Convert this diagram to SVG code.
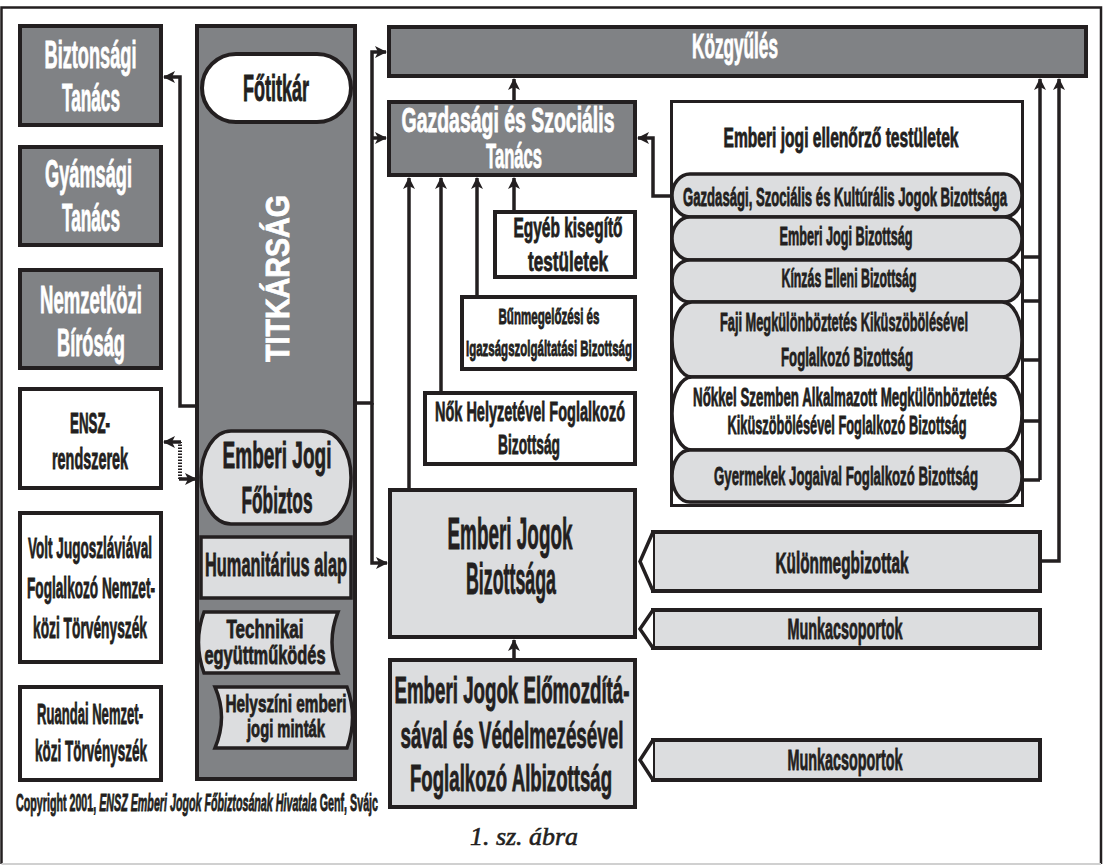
<svg xmlns="http://www.w3.org/2000/svg" width="1104" height="866" viewBox="0 0 1104 866">
<defs>
<style>
.dk{fill:#808285;stroke:#231f20;stroke-width:4}
.lt{fill:#dcdddf;stroke:#231f20;stroke-width:4}
.wh{fill:#ffffff;stroke:#231f20;stroke-width:4}
.pl{stroke-width:3.5}
.t{font-family:"Liberation Sans Narrow","Liberation Sans",Arial,sans-serif;font-weight:bold;text-anchor:middle;fill:#231f20;stroke:#231f20;stroke-width:0.85}
.w{fill:#ffffff;stroke:#ffffff}
.cn{fill:none;stroke:#231f20;stroke-width:3.5}
.ds{fill:none;stroke:#231f20;stroke-width:4;stroke-dasharray:1.5 1.5}
</style>
<marker id="ah" viewBox="0 0 12 12" refX="11" refY="6" markerWidth="12" markerHeight="12" markerUnits="userSpaceOnUse" orient="auto">
<path d="M0,0 L12,6 L0,12 L3,6 Z" fill="#231f20"/>
</marker>
</defs>
<rect x="0" y="0" width="1104" height="866" fill="#ffffff"/>
<path d="M1.5,864 V7.5 H1101 V864" fill="none" stroke="#231f20" stroke-width="2.5"/>
<path d="M1.5,864 H1101" fill="none" stroke="#d0d0d0" stroke-width="2"/>

<g id="connectors">
<path class="cn" d="M195,406 H180 V77 H164" marker-end="url(#ah)"/>
<path class="cn" d="M357,403 H372 V52 H386" marker-end="url(#ah)"/>
<path class="cn" d="M372,138 H386" marker-end="url(#ah)"/>
<path class="cn" d="M372,403 V563 H387" marker-end="url(#ah)"/>
<path class="ds" d="M180,479 V442"/>
<path class="cn" d="M181,442 H164" marker-end="url(#ah)"/>
<path class="cn" d="M179,479 H196" marker-end="url(#ah)"/>
<path class="cn" d="M514,100 V79" marker-end="url(#ah)"/>
<path class="cn" d="M409,488 V178" marker-end="url(#ah)"/>
<path class="cn" d="M441,391 V178" marker-end="url(#ah)"/>
<path class="cn" d="M477,295 V178" marker-end="url(#ah)"/>
<path class="cn" d="M514,210 V178" marker-end="url(#ah)"/>
<path class="cn" d="M672,196 H653 V138 H638" marker-end="url(#ah)"/>
<path class="cn" d="M1040,480 V79" marker-end="url(#ah)"/>
<path class="cn" d="M1022,257 H1040 M1022,301 H1040 M1022,360 H1040 M1022,421 H1040 M1022,480 H1040"/>
<path class="cn" d="M1042,561 H1059 V79" marker-end="url(#ah)"/>
<path class="cn" d="M514,658 V640" marker-end="url(#ah)"/>
</g>

<g id="biztonsagi">
<rect class="dk" x="20" y="26" width="141" height="99"/>
<text class="t w" x="90.5" y="68" font-size="38" textLength="92" lengthAdjust="spacingAndGlyphs">Biztonsági</text>
<text class="t w" x="91" y="111" font-size="38" textLength="58" lengthAdjust="spacingAndGlyphs">Tanács</text>
</g>
<g id="gyamsagi">
<rect class="dk" x="20" y="147" width="141" height="98"/>
<text class="t w" x="88.5" y="187" font-size="38" textLength="87" lengthAdjust="spacingAndGlyphs">Gyámsági</text>
<text class="t w" x="91" y="231" font-size="38" textLength="58" lengthAdjust="spacingAndGlyphs">Tanács</text>
</g>
<g id="nemzetkozi">
<rect class="dk" x="20" y="270" width="141" height="98"/>
<text class="t w" x="91" y="313" font-size="38" textLength="102" lengthAdjust="spacingAndGlyphs">Nemzetközi</text>
<text class="t w" x="91" y="356" font-size="38" textLength="68" lengthAdjust="spacingAndGlyphs">Bíróság</text>
</g>
<g id="ensz">
<rect class="wh" x="20" y="389" width="141" height="99"/>
<text class="t" x="90" y="433" font-size="29" textLength="40" lengthAdjust="spacingAndGlyphs">ENSZ-</text>
<text class="t" x="90" y="469" font-size="29" textLength="76" lengthAdjust="spacingAndGlyphs">rendszerek</text>
</g>
<g id="jugoszlavia">
<rect class="wh" x="20" y="513" width="141" height="149"/>
<text class="t" x="90" y="558" font-size="29" textLength="124" lengthAdjust="spacingAndGlyphs">Volt Jugoszláviával</text>
<text class="t" x="91" y="598" font-size="29" textLength="128" lengthAdjust="spacingAndGlyphs">Foglalkozó Nemzet-</text>
<text class="t" x="90" y="638" font-size="29" textLength="114" lengthAdjust="spacingAndGlyphs">közi Törvényszék</text>
</g>
<g id="ruanda">
<rect class="wh" x="20" y="687" width="141" height="93"/>
<text class="t" x="90" y="724" font-size="29" textLength="106" lengthAdjust="spacingAndGlyphs">Ruandai Nemzet-</text>
<text class="t" x="91" y="761" font-size="29" textLength="112" lengthAdjust="spacingAndGlyphs">közi Törvényszék</text>
</g>
<g id="copyright">
<text class="t" x="197" y="811" font-size="24" stroke-width="0.5" textLength="362" lengthAdjust="spacingAndGlyphs">Copyright 2001, <tspan font-style="italic">ENSZ Emberi Jogok Főbiztosának Hivatala</tspan> Genf, Svájc</text>
</g>

<g id="titkarsag">
<rect class="dk" x="197" y="26" width="158" height="753"/>
<text class="t w" transform="translate(289,278.5) rotate(-90)" x="0" y="0" font-size="33" textLength="167" lengthAdjust="spacingAndGlyphs">TITKÁRSÁG</text>
</g>
<g id="fotitkar">
<rect class="wh" x="202" y="54" width="149" height="68" rx="34" ry="34"/>
<text class="t" x="276" y="101" font-size="37" textLength="66" lengthAdjust="spacingAndGlyphs">Főtitkár</text>
</g>
<g id="fobiztos">
<rect class="lt pl" x="201" y="431" width="150" height="93" rx="30" ry="46"/>
<text class="t" x="277" y="468" font-size="37" textLength="109" lengthAdjust="spacingAndGlyphs">Emberi Jogi</text>
<text class="t" x="277" y="513" font-size="37" textLength="71" lengthAdjust="spacingAndGlyphs">Főbiztos</text>
</g>
<g id="humanitarius">
<rect class="lt pl" x="201" y="537" width="150" height="61"/>
<text class="t" x="276" y="576" font-size="34" textLength="142" lengthAdjust="spacingAndGlyphs">Humanitárius alap</text>
</g>
<g id="technikai">
<path class="lt pl" d="M204,612 H338 Q326,642 338,673 H204 Q193,642 204,612 Z"/>
<text class="t" x="265" y="638" font-size="25" textLength="77" lengthAdjust="spacingAndGlyphs">Technikai</text>
<text class="t" x="265" y="664" font-size="25" textLength="121" lengthAdjust="spacingAndGlyphs">együttműködés</text>
</g>
<g id="helyszini">
<path class="lt pl" d="M215,687 H347 Q358,717 347,748 H215 Q228,717 215,687 Z"/>
<text class="t" x="286" y="712" font-size="24" textLength="121" lengthAdjust="spacingAndGlyphs">Helyszíni emberi</text>
<text class="t" x="286" y="737" font-size="24" textLength="78" lengthAdjust="spacingAndGlyphs">jogi minták</text>
</g>

<g id="kozgyules">
<rect class="dk" x="389" y="27" width="697" height="49"/>
<text class="t w" x="735" y="58" font-size="35" textLength="86" lengthAdjust="spacingAndGlyphs">Közgyűlés</text>
</g>
<g id="gazdasagi-tanacs">
<rect class="dk" x="389" y="102" width="246" height="73"/>
<text class="t w" x="508" y="132" font-size="35" textLength="213" lengthAdjust="spacingAndGlyphs">Gazdasági és Szociális</text>
<text class="t w" x="514" y="168" font-size="35" textLength="56" lengthAdjust="spacingAndGlyphs">Tanács</text>
</g>
<g id="egyeb">
<rect class="wh" x="495" y="212" width="140" height="65"/>
<text class="t" x="568" y="237" font-size="27" textLength="109" lengthAdjust="spacingAndGlyphs">Egyéb kisegítő</text>
<text class="t" x="568" y="271" font-size="27" textLength="80" lengthAdjust="spacingAndGlyphs">testületek</text>
</g>
<g id="bunmegelozesi">
<rect class="wh" x="462" y="297" width="173" height="72"/>
<text class="t" x="549" y="324" font-size="22" textLength="101" lengthAdjust="spacingAndGlyphs">Bűnmegelőzési és</text>
<text class="t" x="549" y="356" font-size="22" textLength="166" lengthAdjust="spacingAndGlyphs">Igazságszolgáltatási Bizottság</text>
</g>
<g id="nok">
<rect class="wh" x="425" y="393" width="210" height="71"/>
<text class="t" x="530" y="421" font-size="28" textLength="190" lengthAdjust="spacingAndGlyphs">Nők Helyzetével Foglalkozó</text>
<text class="t" x="529" y="454" font-size="28" textLength="62" lengthAdjust="spacingAndGlyphs">Bizottság</text>
</g>
<g id="ejb">
<rect class="lt" x="390" y="490" width="245" height="147"/>
<text class="t" x="510" y="549" font-size="45" textLength="125" lengthAdjust="spacingAndGlyphs">Emberi Jogok</text>
<text class="t" x="511" y="594" font-size="45" textLength="90" lengthAdjust="spacingAndGlyphs">Bizottsága</text>
</g>
<g id="albizottsag">
<rect class="lt" x="390" y="660" width="245" height="147"/>
<text class="t" x="512" y="703" font-size="37" textLength="235" lengthAdjust="spacingAndGlyphs">Emberi Jogok Előmozdítá-</text>
<text class="t" x="512" y="748" font-size="37" textLength="223" lengthAdjust="spacingAndGlyphs">sával és Védelmezésével</text>
<text class="t" x="511" y="791" font-size="37" textLength="202" lengthAdjust="spacingAndGlyphs">Foglalkozó Albizottság</text>
</g>
<g id="abra">
<text x="524" y="845" font-family="'Liberation Serif',serif" font-style="italic" font-size="26" text-anchor="middle" fill="#231f20" stroke="#231f20" stroke-width="0.6" textLength="108" lengthAdjust="spacingAndGlyphs">1. sz. ábra</text>
</g>

<g id="ellenorzo">
<rect x="671.5" y="101.5" width="351" height="404" fill="#ffffff" stroke="#231f20" stroke-width="3"/>
<text class="t" x="841" y="147" font-size="27" textLength="235" lengthAdjust="spacingAndGlyphs">Emberi jogi ellenőrző testületek</text>
</g>
<g id="pill-gazdasagi">
<rect class="lt pl" x="672" y="174" width="350" height="43" rx="18" ry="21.5"/>
<text class="t" x="845" y="206" font-size="25" textLength="324" lengthAdjust="spacingAndGlyphs">Gazdasági, Szociális és Kultúrális Jogok Bizottsága</text>
</g>
<g id="pill-emberi">
<rect class="lt pl" x="672" y="217" width="350" height="43" rx="18" ry="21.5"/>
<text class="t" x="846" y="245" font-size="26" textLength="133" lengthAdjust="spacingAndGlyphs">Emberi Jogi Bizottság</text>
</g>
<g id="pill-kinzas">
<rect class="lt pl" x="672" y="260" width="350" height="42" rx="18" ry="21"/>
<text class="t" x="849" y="287" font-size="26" textLength="135" lengthAdjust="spacingAndGlyphs">Kínzás Elleni Bizottság</text>
</g>
<g id="pill-faji">
<rect class="lt pl" x="672" y="302" width="350" height="75" rx="20" ry="37.5"/>
<text class="t" x="844" y="331" font-size="26" textLength="248" lengthAdjust="spacingAndGlyphs">Faji Megkülönböztetés Kiküszöbölésével</text>
<text class="t" x="847" y="366" font-size="26" textLength="132" lengthAdjust="spacingAndGlyphs">Foglalkozó Bizottság</text>
</g>
<g id="pill-nokkel">
<rect class="wh pl" x="672" y="377" width="350" height="73" rx="20" ry="36.5"/>
<text class="t" x="845" y="406" font-size="26" textLength="304" lengthAdjust="spacingAndGlyphs">Nőkkel Szemben Alkalmazott Megkülönböztetés</text>
<text class="t" x="847" y="434" font-size="26" textLength="239" lengthAdjust="spacingAndGlyphs">Kiküszöbölésével Foglalkozó Bizottság</text>
</g>
<g id="pill-gyermekek">
<rect class="lt pl" x="672" y="450" width="350" height="52" rx="18" ry="26"/>
<text class="t" x="846" y="485" font-size="26" textLength="264" lengthAdjust="spacingAndGlyphs">Gyermekek Jogaival Foglalkozó Bizottság</text>
</g>

<g id="kulonmegbizottak">
<rect class="lt" x="653" y="532" width="387" height="59"/>
<path d="M653,532 L640,561.5 L653,591" fill="#ffffff" stroke="#231f20" stroke-width="3.5"/>
<text class="t" x="842" y="573" font-size="29" textLength="133" lengthAdjust="spacingAndGlyphs">Különmegbizottak</text>
</g>
<g id="munkacsoportok-1">
<rect class="lt" x="653" y="610" width="387" height="38"/>
<path d="M653,610 L640,629 L653,648" fill="#ffffff" stroke="#231f20" stroke-width="3.5"/>
<text class="t" x="845" y="639" font-size="29" textLength="115" lengthAdjust="spacingAndGlyphs">Munkacsoportok</text>
</g>
<g id="munkacsoportok-2">
<rect class="lt" x="653" y="740" width="387" height="40"/>
<path d="M653,740 L640,760 L653,780" fill="#ffffff" stroke="#231f20" stroke-width="3.5"/>
<text class="t" x="845" y="770" font-size="29" textLength="115" lengthAdjust="spacingAndGlyphs">Munkacsoportok</text>
</g>
</svg>
